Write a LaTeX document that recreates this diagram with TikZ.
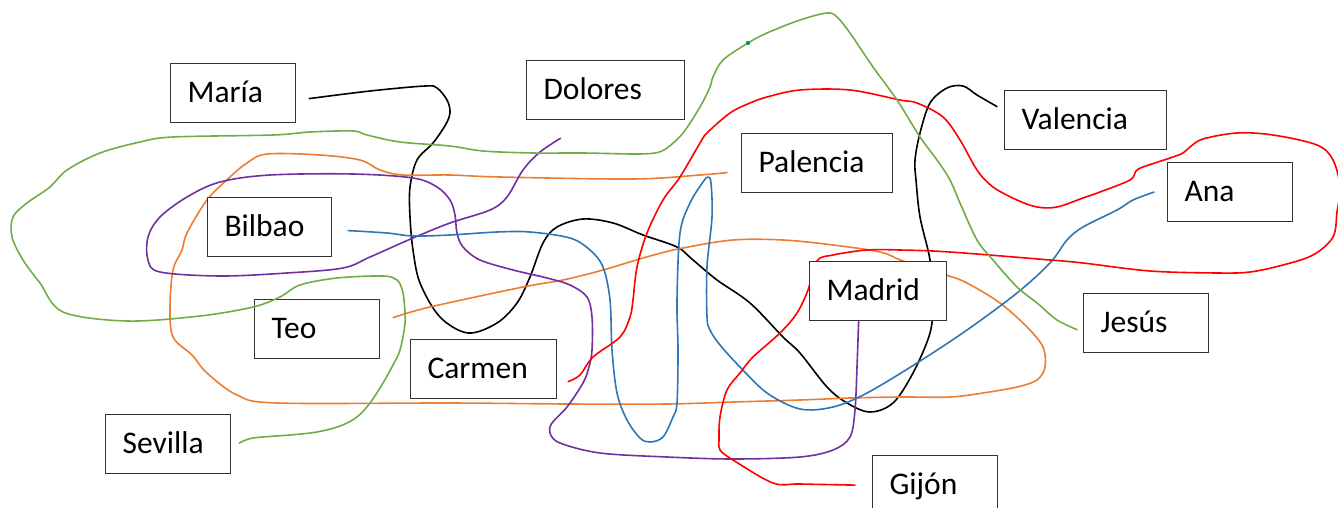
\documentclass[tikz,border=0pt]{standalone}
\usepackage{fontspec}
\setmainfont{Carlito}
\pgfdeclarelayer{lines}
\pgfsetlayers{lines,main}
\definecolor{lgreen}{HTML}{70AD47}
\definecolor{lorange}{HTML}{ED7D31}
\definecolor{lpurple}{HTML}{7030A0}
\definecolor{lblue}{HTML}{2E75B6}
\definecolor{lred}{HTML}{FF0000}
\definecolor{dotgreen}{HTML}{00A050}
\definecolor{boxgray}{HTML}{333333}
\tikzset{
  namebox/.style={draw=boxgray, fill=white, line width=1.2pt, anchor=north west,
    minimum height=59pt, inner xsep=17pt, inner ysep=0pt, text height=19pt, text depth=0pt,
    align=left, font=\fontsize{31.5}{36}\selectfont},
  wire/.style={line width=1.6pt, line cap=round, line join=round},
  sm/.style={smooth, tension=0.55}
}
\begin{document}
\begin{tikzpicture}[x=1pt,y=-1pt]
\useasboundingbox (0,0) rectangle (1338,508);
% boxes
\node[namebox, text width=91pt]  (maria)    at (170,63)  {María};
\node[namebox, text width=124pt] (dolores)  at (526,60)  {Dolores};
\node[namebox, text width=117pt] (palencia) at (741,133) {Palencia};
\node[namebox, text width=128pt] (valencia) at (1004,90) {Valencia};
\node[namebox, text width=91pt]  (ana)      at (1167,162) {Ana};
\node[namebox, text width=90pt]  (bilbao)   at (207,197) {Bilbao};
\node[namebox, text width=91pt]  (teo)      at (254,299) {Teo};
\node[namebox, text width=112pt] (carmen)   at (410,339) {Carmen};
\node[namebox, text width=91pt]  (sevilla)  at (105,414) {Sevilla};
\node[namebox, text width=103pt] (madrid)   at (809,261) {Madrid};
\node[namebox, text width=91pt]  (jesus)    at (1083,293) {Jesús};
\node[namebox, text width=91pt]  (gijon)    at (872,455) {Gijón};
% connector ends
\coordinate (kA) at ([shift={(13,5.5)}]maria.east);
\coordinate (kB) at ([shift={(-7,-13.5)}]valencia.west);
\coordinate (gA) at ([shift={(8,-1)}]sevilla.east);
\coordinate (gB) at ([shift={(-6,6.5)}]jesus.west);
\coordinate (oA) at ([shift={(13,-11.5)}]teo.east);
\coordinate (oB) at ([shift={(-14,9.5)}]palencia.west);
\coordinate (pA) at ([shift={(-45,18)}]dolores.south);
\coordinate (pB) at ([shift={(-19.5,0)}]madrid.south);
\coordinate (bA) at ([shift={(16,3.5)}]bilbao.east);
\coordinate (bB) at ([shift={(-13,0)}]ana.west);
\coordinate (rA) at ([shift={(11,12.5)}]carmen.east);
\coordinate (rB) at ([shift={(-17,0)}]gijon.west);
\begin{pgfonlayer}{lines}
% black: Maria - Valencia
\draw[wire, black] plot[sm] coordinates {(kA) (370,91) (425,86) (437,88) (447,100) (450,112) (446,124) (433,143) (417,160) (410,187) (410,217) (413,250) (420,283) (440,317) (468,333) (497,323) (517,303) (530,277) (543,243) (557,227) (583,219) (613,223) (643,235) (677,247) (693,260) (717,280) (750,303) (783,337) (800,353) (827,387) (847,403) (870,412) (893,403) (913,373) (930,333) (933,300) (930,260) (920,217) (916,180) (915,160) (920,133) (930,103) (947,88) (963,86) (977,95) (kB)};
% orange: Teo - Palencia
\draw[wire, lorange] plot[sm] coordinates {(oA) (430,307) (523,287) (563,280) (603,270) (650,256) (683,248) (733,240) (783,240) (833,245) (880,252) (903,261) (946,275) (967,283) (1000,303) (1027,327) (1043,347) (1045,367) (1037,380) (1017,387) (983,393) (950,397) (900,397) (850,398) (800,400) (733,402) (667,404) (567,404) (450,403) (277,403) (237,395) (207,373) (192,355) (173,337) (170,307) (173,270) (182,250) (187,233) (207,200) (230,177) (247,163) (267,154) (320,155) (360,160) (380,170) (403,175) (450,175) (500,177) (633,179) (700,175) (oB)};
% purple: Dolores - Madrid
\draw[wire, lpurple] plot[sm] coordinates {(pA) (540,152) (523,170) (507,197) (490,210) (450,223) (413,238) (370,257) (343,268) (287,273) (220,276) (160,272) (148,260) (148,237) (160,217) (187,197) (220,182) (270,175) (353,174) (413,178) (437,187) (450,200) (455,215) (457,233) (463,247) (480,260) (513,270) (547,278) (570,285) (587,297) (592,317) (592,350) (589,367) (583,383) (567,407) (552,423) (550,433) (560,443) (600,453) (667,457) (733,459) (800,457) (833,450) (850,437) (855,410) (857,367) (pB)};
% blue: Bilbao - Ana
\draw[wire, lblue] plot[sm] coordinates {(bA) (387,233) (413,236) (450,235) (497,232) (530,232) (570,238) (590,250) (603,267) (610,300) (612,350) (617,393) (627,420) (640,438) (650,442) (663,437) (673,417) (677,403) (678,350) (677,300) (680,233) (690,203) (703,182) (708,177) (711,183) (712,217) (707,267) (707,317) (710,330) (720,345) (740,367) (767,393) (800,409) (833,407) (867,393) (917,363) (967,330) (1017,293) (1050,263) (1067,240) (1083,227) (1117,210) (1133,200) (bB)};
% red: Carmen - Gijon
\draw[wire, lred] plot[sm] coordinates {(rA) (580,375) (593,357) (620,337) (630,317) (633,300) (637,267) (647,233) (663,200) (680,177) (700,143) (707,133) (730,113) (750,103) (767,97) (800,90) (850,90) (900,100) (917,103) (943,117) (960,140) (977,170) (993,187) (1017,200) (1037,207) (1057,207) (1083,198) (1100,192) (1130,180) (1136,171) (1143,167) (1170,158) (1183,153) (1190,147) (1203,139) (1237,133) (1273,135) (1317,145) (1333,160) (1340,187) (1337,212) (1333,237) (1313,255) (1283,265) (1250,272) (1217,273) (1150,271) (1083,263) (1050,260) (950,252) (900,250) (867,250) (833,255) (817,261) (808,290) (797,313) (780,333) (753,357) (740,373) (727,390) (720,417) (719,440) (720,450) (733,460) (773,483) (800,484) (rB)};
\end{pgfonlayer}
% green: Sevilla - Jesus (drawn over the corner of Teo)
\draw[wire, lgreen] plot[sm] coordinates {(gA) (253,438) (290,435) (317,432) (340,426) (357,417) (370,403) (383,383) (393,365) (400,350) (405,323) (404,300) (402,289) (397,280) (383,276) (337,278) (300,285) (280,297) (253,307) (200,316) (127,321) (63,312) (40,283) (23,260) (12,237) (13,217) (27,203) (50,187) (67,170) (100,153) (140,142) (173,137) (273,135) (310,132) (353,131) (367,135) (400,142) (450,146) (483,151) (533,153) (583,153) (633,154) (655,153) (667,148) (683,133) (700,107) (710,87) (713,77) (723,60) (748,43) (767,33) (800,20) (827,13) (837,17) (850,33) (873,67) (897,100) (920,137) (937,160) (950,180) (960,203) (977,240) (993,260) (1017,287) (1037,303) (1057,320) (gB)};
\fill[dotgreen] (748,43) circle (2.2pt);
\end{tikzpicture}
\end{document}
